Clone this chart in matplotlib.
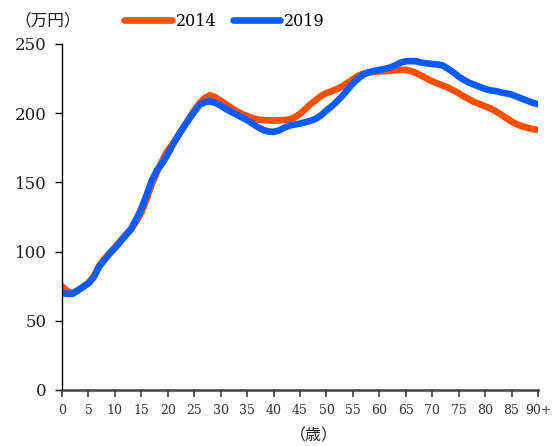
import numpy as np
import matplotlib.pyplot as plt

plt.rcParams['font.family'] = ['DejaVu Serif', 'Noto Sans CJK JP']

# データ（年齢別、万円）
ages = np.arange(0, 91)
y2014 = [75, 71.5, 70, 72, 74.5, 77.5, 82, 89.5, 94.5, 99,
         103, 107.5, 112, 116, 121.5, 128.5, 138, 149, 158, 166,
         173, 178, 184, 190, 196, 202, 207, 211, 213, 211.5,
         209, 206.5, 204, 201.5, 199.5, 198, 196.5, 195.5, 195, 194.8,
         194.7, 194.8, 195, 195.5, 197, 199.5, 203, 206.5, 209.5, 212.5,
         214.5, 216, 217.5, 219.5, 222, 224.5, 227, 228.5, 229.5, 230,
         230.2, 230.3, 230.6, 231, 231.3, 231.3, 230.5, 229, 227, 225,
         223, 221.5, 220, 218.5, 216.5, 214.5, 212, 210, 208, 206.5,
         205, 203.5, 201.5, 199, 196.5, 194, 192, 190.5, 189.5, 188.5,
         188]
y2019 = [70, 69.5, 69.5, 72, 74.5, 77, 81.5, 89, 94, 98.5,
         102.5, 107, 111.5, 116, 123, 131, 141, 151.5, 159, 164,
         170.5, 177.5, 184, 190, 195.5, 201, 206, 208, 208.5, 207.5,
         205.5, 203, 201, 199, 197, 195, 192.5, 190, 188, 186.8,
         186.5, 187.5, 189.5, 191, 191.8, 192.5, 193.5, 194.5, 196, 198.5,
         202, 205, 208.5, 212.5, 217, 221.5, 225, 228, 229.5, 230.5,
         231.3, 232, 233, 234.5, 236.5, 237.5, 237.7, 237.5, 236.5, 236,
         235.5, 235.2, 234.5, 232, 229.5, 226.5, 224, 222, 220.5, 219,
         217.5, 216.5, 216, 215, 214.3, 213.5, 212, 210.5, 209, 207.5,
         206.5]
xticks = list(range(0, 91, 5))
xlabels = [str(v) for v in range(0, 90, 5)] + ['90+']
yticks = [0, 50, 100, 150, 200, 250]

fig = plt.figure(figsize=(5.53, 4.46), dpi=100)
ax = fig.add_axes([62 / 553, 56 / 446, 476 / 553, 346 / 446])

ax.plot(ages, y2014, color='#FF5000', linewidth=4.8, label='2014',
        solid_capstyle='round', solid_joinstyle='round')
ax.plot(ages, y2019, color='#0A5CFF', linewidth=4.8, label='2019',
        solid_capstyle='round', solid_joinstyle='round')

ax.set_xlim(0, 90)
ax.set_ylim(0, 250)
ax.set_xticks(xticks)
ax.set_xticklabels(xlabels, fontsize=9, color='#333333')
ax.set_yticks(yticks)
ax.tick_params(axis='y', labelsize=12, length=5, width=1, direction='out', pad=6,
               labelcolor='#222222')
ax.tick_params(axis='x', length=5, width=1.2, direction='out', pad=5, color='#404040')

for s in ['top', 'right']:
    ax.spines[s].set_visible(False)
ax.spines['left'].set_linewidth(1)
ax.spines['bottom'].set_linewidth(1.8)
ax.spines['bottom'].set_color('#404040')
ax.patch.set_alpha(0)

# 単位
fig.text(14 / 553, 1 - 21 / 446, '（万円）', fontsize=12, va='center', ha='left',
         color='#222222')
fig.text(314 / 553, 1 - 436 / 446, '（歳）', fontsize=11.5, va='center', ha='center',
         color='#222222')

fig.legend(loc='center left', bbox_to_anchor=(124 / 553, 1 - 21 / 446), ncol=2,
           frameon=False, fontsize=11.5, handlelength=3.0, handletextpad=0.25,
           columnspacing=1.0, borderaxespad=0, borderpad=0)

fig.savefig('out.png', dpi=100)
